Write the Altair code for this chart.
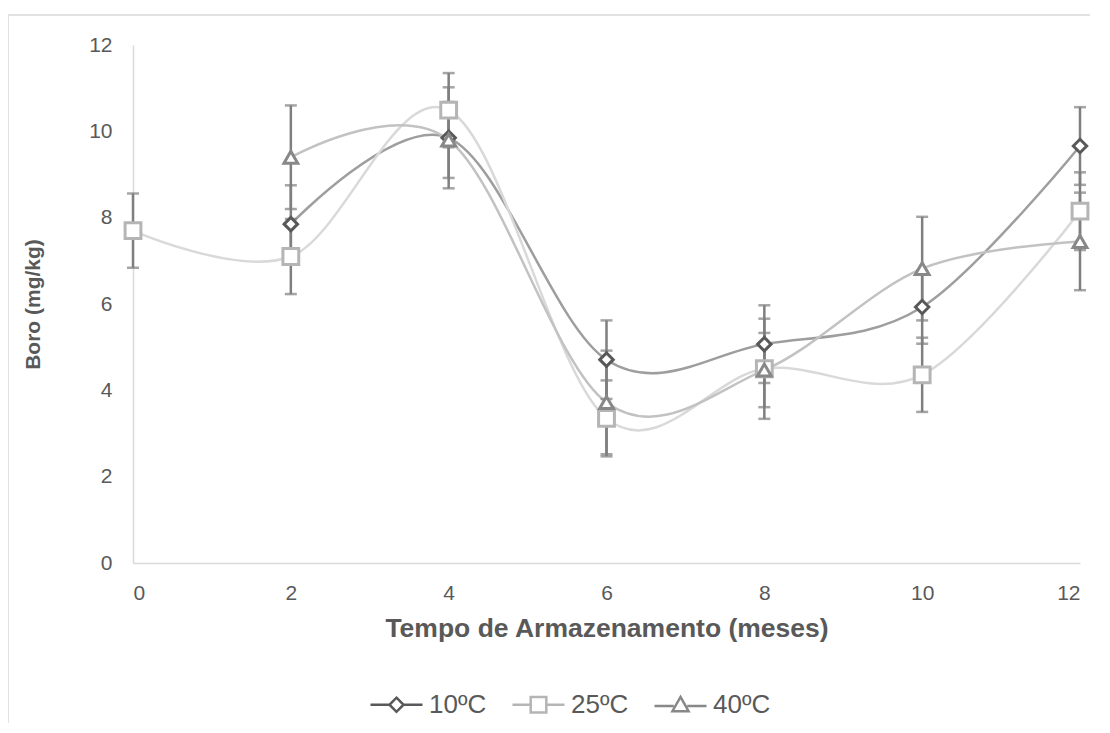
import altair as alt
import pandas as pd

# ---- data ----
series_names = ["10ºC", "25ºC", "40ºC"]

months_10 = [2, 4, 6, 8, 10, 12]
boro_10 = [7.85, 9.85, 4.71, 5.07, 5.93, 9.66]
err_10 = [0.90, 1.17, 0.91, 0.90, 0.85, 0.90]

months_25 = [0, 2, 4, 6, 8, 10, 12]
boro_25 = [7.70, 7.10, 10.49, 3.35, 4.50, 4.36, 8.15]
err_25 = [0.86, 0.87, 0.86, 0.88, 1.16, 0.86, 0.90]

months_40 = [2, 4, 6, 8, 10, 12]
boro_40 = [9.40, 9.80, 3.72, 4.47, 6.82, 7.45]
err_40 = [1.20, 0.88, 1.20, 0.86, 1.20, 1.13]

x_ticks = [0, 2, 4, 6, 8, 10, 12]
y_ticks = [0, 2, 4, 6, 8, 10, 12]

# ---- styling ----
FONT = "Liberation Sans"
TXT = "#595959"
line_colors = {"10ºC": "#9e9e9e", "25ºC": "#d9d9d9", "40ºC": "#c2c2c2"}
marker_colors = {"10ºC": "#595959", "25ºC": "#b5b5b5", "40ºC": "#888888"}
marker_shapes = {"10ºC": "diamond", "25ºC": "square", "40ºC": "triangle-up"}
marker_sizes = {"10ºC": 180, "25ºC": 250, "40ºC": 190}
legend_paths = [
    "M-1,0H-0.27M0.27,0H1M0,-0.27L0.27,0L0,0.27L-0.27,0Z",
    "M-1,0H-0.3M0.3,0H1M-0.3,-0.3H0.3V0.3H-0.3Z",
    "M-1,0.05H-0.26M0.26,0.05H1M0,-0.3L0.31,0.25L-0.31,0.25Z",
]

rows = []
for name, xs, ys, es in [
    ("10ºC", months_10, boro_10, err_10),
    ("25ºC", months_25, boro_25, err_25),
    ("40ºC", months_40, boro_40, err_40),
]:
    for x, y, e in zip(xs, ys, es):
        rows.append({"series": name, "mes": x, "boro": y, "err": e})
df = pd.DataFrame(rows)

xscale = alt.Scale(domain=[0, 12], nice=False)
yscale = alt.Scale(domain=[0, 12], nice=False)

x_enc = alt.X(
    "mes:Q", scale=xscale,
    axis=alt.Axis(values=x_ticks, title="Tempo de Armazenamento (meses)",
                  labelPadding=19, titlePadding=12, format="d",
                  titleFontSize=26.5),
)
y_enc = alt.Y(
    "boro:Q", scale=yscale,
    axis=alt.Axis(values=y_ticks, title="Boro (mg/kg)", labelPadding=21,
                  titlePadding=45, format="d", titleFontSize=21),
)

base = alt.Chart(df)

# border of the chart area (decorative frame)
frame = alt.Chart(pd.DataFrame({"k": [0]})).mark_rect(
    fill=None, stroke="#d9d9d9", strokeWidth=1.5
).encode(x=alt.value(-125), x2=alt.value(1000), y=alt.value(-30), y2=alt.value(700))

layers = [frame]
for name in series_names:
    sub = base.transform_filter(alt.datum.series == name)
    layers.append(
        sub.mark_line(interpolate="cardinal", strokeWidth=2.5, color=line_colors[name]).encode(
            x=x_enc, y=y_enc, order="mes:Q"
        )
    )
for name in series_names:
    sub = base.transform_filter(alt.datum.series == name).transform_calculate(
        lo="datum.boro - datum.err", hi="datum.boro + datum.err"
    )
    layers.append(
        sub.mark_rule(color="#7f7f7f", strokeWidth=2.5).encode(
            x="mes:Q", y="lo:Q", y2="hi:Q"
        )
    )
    layers.append(
        sub.mark_tick(color="#7f7f7f", thickness=2.5, size=12, orient="horizontal").encode(
            x="mes:Q", y="lo:Q"
        )
    )
    layers.append(
        sub.mark_tick(color="#7f7f7f", thickness=2.5, size=12, orient="horizontal").encode(
            x="mes:Q", y="hi:Q"
        )
    )
for name in series_names:
    sub = base.transform_filter(alt.datum.series == name)
    layers.append(
        sub.mark_point(
            shape=marker_shapes[name], size=marker_sizes[name], filled=True,
            fill="white", stroke=marker_colors[name], strokeWidth=3, opacity=1,
        ).encode(x="mes:Q", y="boro:Q")
    )

# legend carrier layer (no visible marks)
legend_layer = base.transform_filter("false").mark_point(
    filled=False, strokeWidth=2.5, opacity=1
).encode(
    x="mes:Q", y="boro:Q",
    shape=alt.Shape("series:N", scale=alt.Scale(domain=series_names, range=legend_paths),
                    legend=alt.Legend(title=None)),
    stroke=alt.Stroke("series:N",
                      scale=alt.Scale(domain=series_names,
                                      range=[marker_colors[n] for n in series_names]),
                      legend=alt.Legend(title=None)),
)
layers.append(legend_layer)

chart = alt.layer(*layers).properties(
    width=947, height=518,
    autosize=alt.AutoSizeParams(type="none"),
    padding={"left": 125, "top": 37, "right": 10, "bottom": 160},
).configure_view(stroke=None).configure_axis(
    grid=False, ticks=False, domainColor="#d9d9d9", domainWidth=1.5,
    labelFont=FONT, labelFontSize=21, labelColor=TXT,
    titleFont=FONT, titleFontSize=21, titleFontWeight="bold", titleColor=TXT,
).configure_legend(
    orient="none", legendX=236, legendY=632, direction="horizontal",
    symbolSize=2704, symbolStrokeWidth=2.5, labelFont=FONT, labelFontSize=26,
    labelColor=TXT, columnPadding=20, labelOffset=5,
)

chart.save("out.html", embed_options={"renderer": "svg", "actions": False})
